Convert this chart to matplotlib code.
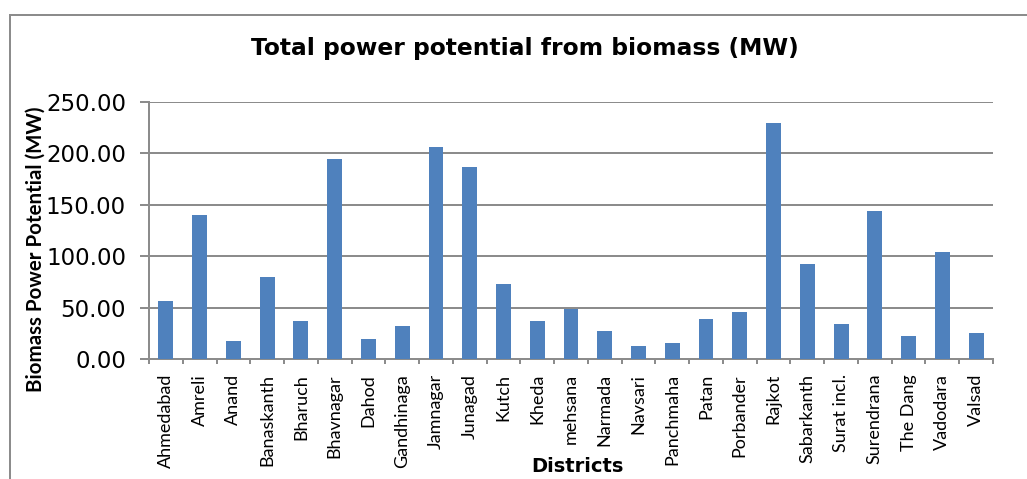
import matplotlib
matplotlib.use("Agg")
import matplotlib.pyplot as plt
from matplotlib.lines import Line2D
import numpy as np

districts = ["Ahmedabad", "Amreli", "Anand", "Banaskanth", "Bharuch", "Bhavnagar",
             "Dahod", "Gandhinaga", "Jamnagar", "Junagad", "Kutch", "Kheda",
             "mehsana", "Narmada", "Navsari", "Panchmaha", "Patan", "Porbander",
             "Rajkot", "Sabarkanth", "Surat incl.", "Surendrana", "The Dang",
             "Vadodara", "Valsad"]
potential_mw = [56.4, 140.1, 17.5, 79.8, 37.0, 194.6, 19.5, 32.1, 206.2, 186.8,
                73.0, 37.0, 48.6, 27.2, 12.6, 15.6, 38.9, 45.7, 229.6, 92.4,
                34.0, 144.0, 22.4, 104.0, 25.3]
y_ticks = [0, 50, 100, 150, 200, 250]

W, H = 1027, 479
fig = plt.figure(figsize=(W / 100, H / 100), dpi=100)
PX = 72 / 100  # points per pixel

# outer chart border (top and left edges visible)
fig.lines.append(Line2D([10 / W, 1.0], [1 - 15 / H, 1 - 15 / H], transform=fig.transFigure,
                        color="#8c8c8c", linewidth=2 * PX))
fig.lines.append(Line2D([10 / W, 10 / W], [0, 1 - 15 / H], transform=fig.transFigure,
                        color="#8c8c8c", linewidth=2 * PX))

ax = fig.add_axes([149 / W, (H - 359) / H, (993 - 149) / W, 257 / H])
x = np.arange(len(districts))
ax.bar(x, potential_mw, width=0.44, color="#4F81BD", zorder=3)

ax.set_xlim(-0.5, len(districts) - 0.5)
ax.set_ylim(0, 250)
ax.set_yticks(y_ticks)
ax.set_yticklabels([f"{v:.2f}" for v in y_ticks], fontsize=16.5, family="DejaVu Sans")
ax.yaxis.grid(True, color="#8c8c8c", linewidth=2 * PX, zorder=0)
ax.tick_params(axis="y", length=9 * PX, width=2 * PX, color="#8c8c8c", pad=14 * PX)

ax.set_xticks(x)
ax.set_xticklabels(districts, rotation=90, fontsize=13, family="Lato")
ax.set_xticks(np.arange(len(districts) + 1) - 0.5, minor=True)
ax.tick_params(axis="x", which="major", length=0, pad=15 * PX)
ax.tick_params(axis="x", which="minor", length=5 * PX, width=2 * PX, color="#8c8c8c")

for s in ["top", "right"]:
    ax.spines[s].set_visible(False)
for s in ["left", "bottom"]:
    ax.spines[s].set_color("#8c8c8c")
    ax.spines[s].set_linewidth(2 * PX)

ax.set_ylabel("Biomass Power Potential (MW)", fontsize=14.8, fontweight="bold",
              family="Lato")
ax.yaxis.label.set_va("center")
ax.yaxis.set_label_coords((36 - 149) / 844, (359 - 249.5) / 257)
ax.set_xlabel("Districts", fontsize=14, fontweight="bold", family="DejaVu Sans")
ax.xaxis.label.set_va("center")
ax.xaxis.set_label_coords((577 - 149) / 844, (359 - 466) / 257)

fig.text(525 / W, 1 - 49 / H, "Total power potential from biomass (MW)",
         ha="center", va="center", fontsize=16.8, fontweight="bold", family="DejaVu Sans")

fig.savefig("out.png", dpi=100, facecolor="white")
